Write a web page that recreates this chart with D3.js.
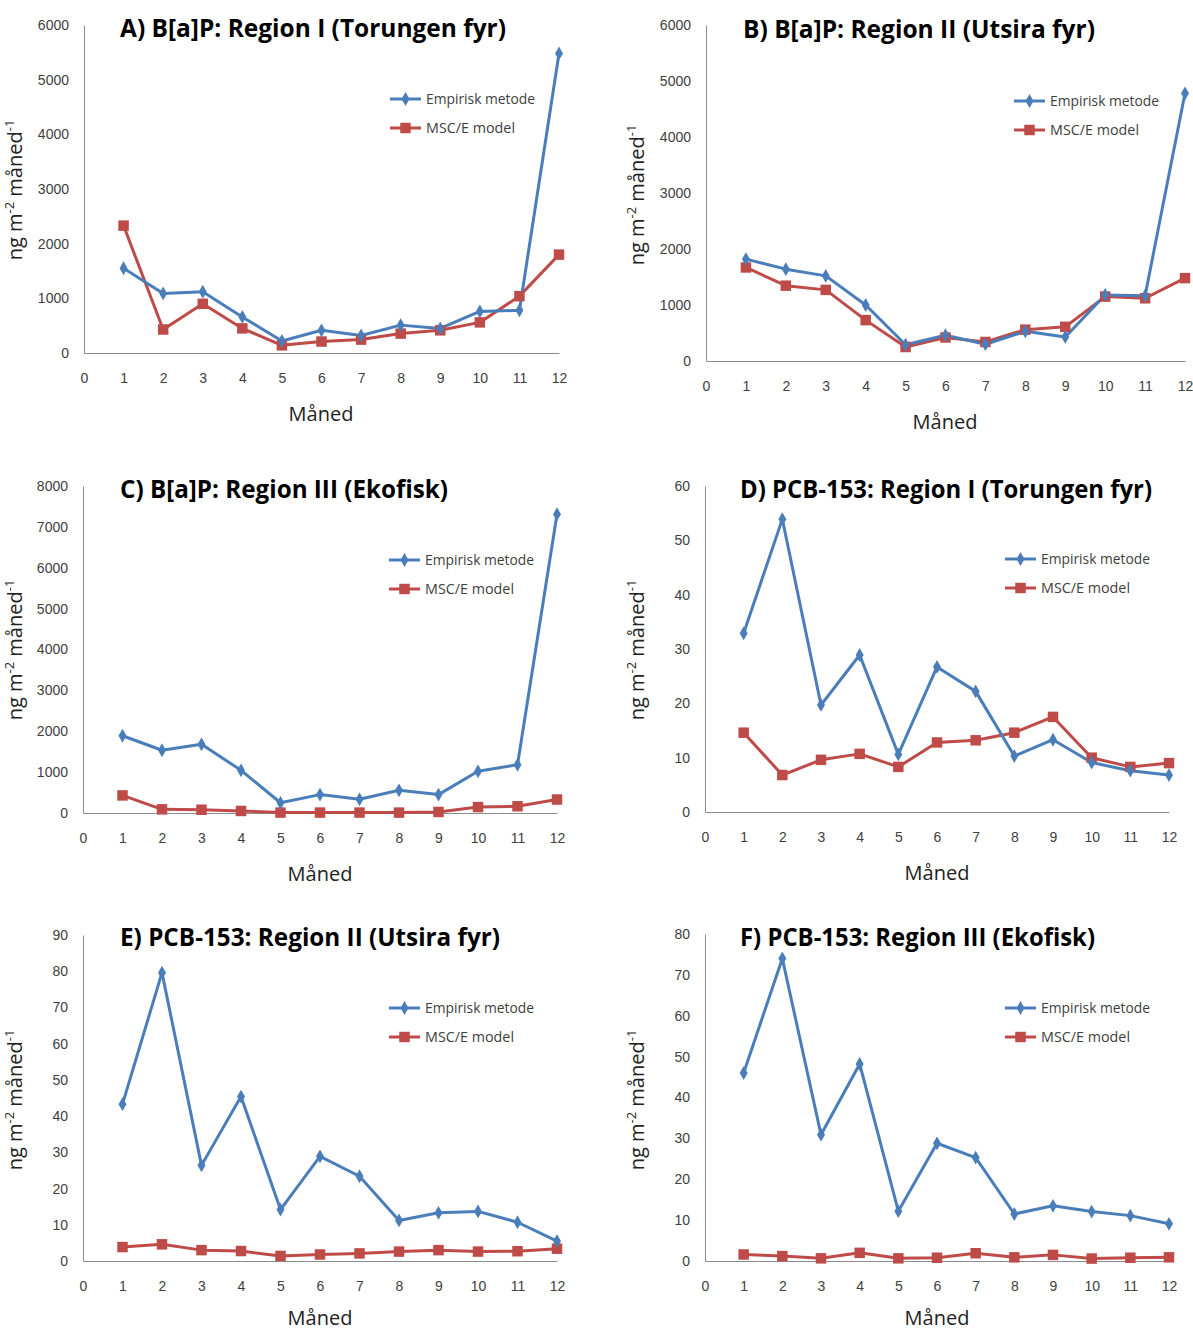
<!DOCTYPE html>
<html>
<head>
<meta charset="utf-8">
<script src="https://cdn.jsdelivr.net/npm/d3@7/dist/d3.min.js"></script>
<style>
  html, body { margin: 0; padding: 0; background: #fff; }
  svg { display: block; font-family: "Open Sans", "Noto Sans", sans-serif; }
</style>
</head>
<body>
<svg id="chart" width="1193" height="1333"></svg>
<script>
// ---- data ----
const months = [1, 2, 3, 4, 5, 6, 7, 8, 9, 10, 11, 12];
const xTicks = [0, 1, 2, 3, 4, 5, 6, 7, 8, 9, 10, 11, 12];
const seriesNames = ["Empirisk metode", "MSC/E model"];
const titles = [
  "A) B[a]P: Region I (Torungen fyr)",
  "B) B[a]P: Region II (Utsira fyr)",
  "C) B[a]P: Region III (Ekofisk)",
  "D) PCB-153: Region I (Torungen fyr)",
  "E) PCB-153: Region II (Utsira fyr)",
  "F) PCB-153: Region III (Ekofisk)"
];
const yMaxes = [6000, 6000, 8000, 60, 90, 80];
const yStepSizes = [1000, 1000, 1000, 10, 10, 10];

const empA = [1550, 1090, 1120, 660, 220, 415, 320, 510, 450, 760, 780, 5480];
const modA = [2330, 430, 900, 450, 140, 210, 245, 355, 415, 560, 1040, 1800];
const empB = [1820, 1640, 1520, 1000, 290, 460, 300, 530, 430, 1180, 1165, 4780];
const modB = [1670, 1345, 1270, 730, 250, 420, 340, 560, 610, 1150, 1120, 1480];
const empC = [1890, 1535, 1680, 1045, 250, 450, 335, 555, 450, 1020, 1180, 7310];
const modC = [430, 90, 80, 50, 10, 10, 10, 10, 25, 145, 165, 330];
const empD = [32.9, 53.9, 19.7, 28.9, 10.6, 26.7, 22.2, 10.3, 13.3, 9.1, 7.6, 6.8];
const modD = [14.6, 6.8, 9.6, 10.7, 8.3, 12.8, 13.2, 14.6, 17.5, 10.0, 8.3, 9.0];
const empE = [43.3, 79.6, 26.4, 45.4, 14.2, 28.9, 23.4, 11.2, 13.3, 13.7, 10.7, 5.5];
const modE = [3.85, 4.6, 3.0, 2.75, 1.4, 1.8, 2.1, 2.6, 3.0, 2.6, 2.7, 3.4];
const empF = [46.0, 74.0, 30.9, 48.2, 12.2, 28.8, 25.3, 11.5, 13.5, 12.1, 11.1, 9.1];
const modF = [1.6, 1.2, 0.65, 2.0, 0.65, 0.8, 1.9, 0.9, 1.5, 0.6, 0.8, 0.9];

const empirisk = [empA, empB, empC, empD, empE, empF];
const model = [modA, modB, modC, modD, modE, modF];

// ---- layout (positions / styles) ----
const layout = [
  {l: 84,  r: 559,  t: 25,  b: 353,  tx0: 120, tx1: 506,  ty: 37,   lx: 390,  ly: 99,   ylx: 22,  yly: 190,  mx: 321, my: 421},
  {l: 706, r: 1185, t: 25,  b: 361,  tx0: 743, tx1: 1095, ty: 38,   lx: 1014, ly: 101,  ylx: 644, yly: 195,  mx: 945, my: 429},
  {l: 83,  r: 557,  t: 486, b: 813,  tx0: 120, tx1: 448,  ty: 498,  lx: 389,  ly: 560,  ylx: 22,  yly: 650,  mx: 320, my: 881},
  {l: 705, r: 1169, t: 486, b: 812,  tx0: 740, tx1: 1152, ty: 498,  lx: 1005, ly: 559,  ylx: 644, yly: 650,  mx: 937, my: 880},
  {l: 83,  r: 557,  t: 935, b: 1261, tx0: 120, tx1: 500,  ty: 946,  lx: 389,  ly: 1008, ylx: 22,  yly: 1100, mx: 320, my: 1325},
  {l: 705, r: 1169, t: 934, b: 1261, tx0: 740, tx1: 1095, ty: 946,  lx: 1005, ly: 1008, ylx: 644, yly: 1100, mx: 937, my: 1325}
];
const blue = "#4a7ebb";
const red = "#be4b48";
const axisColor = "#8c8c8c";
const textColor = "#404040";

const svg = d3.select("#chart");
const diamond = d3.symbol().type(d3.symbolDiamond).size(55);
const square = d3.symbol().type(d3.symbolSquare).size(110);

layout.forEach((L, i) => {
  const g = svg.append("g");
  const x = d3.scaleLinear().domain([0, 12]).range([L.l, L.r]);
  const y = d3.scaleLinear().domain([0, yMaxes[i]]).range([L.b, L.t]);
  const yTickVals = d3.range(0, yMaxes[i] + 1e-9, yStepSizes[i]);

  // y axis
  const yAxis = d3.axisLeft(y).tickValues(yTickVals).tickSize(0).tickPadding(15).tickFormat(d3.format("d"));
  const ya = g.append("g").attr("transform", `translate(${L.l},0)`).call(yAxis);
  ya.select(".domain").attr("stroke", axisColor).attr("stroke-width", 1);
  ya.selectAll("text").attr("fill", textColor).style("font-size", "14px");

  // x axis
  const xAxis = d3.axisBottom(x).tickValues(xTicks).tickSize(0).tickPadding(20).tickFormat(d3.format("d"));
  const xa = g.append("g").attr("transform", `translate(0,${L.b})`).call(xAxis);
  xa.select(".domain").attr("stroke", axisColor).attr("stroke-width", 1);
  xa.selectAll("text").attr("fill", textColor).style("font-size", "14px");

  // lines
  const line = d3.line().x((d, j) => x(months[j])).y(d => y(d));
  g.append("path").datum(model[i]).attr("d", line)
    .attr("fill", "none").attr("stroke", red).attr("stroke-width", 3).attr("stroke-linejoin", "round");
  g.append("path").datum(empirisk[i]).attr("d", line)
    .attr("fill", "none").attr("stroke", blue).attr("stroke-width", 3).attr("stroke-linejoin", "round");
  g.selectAll(".sq").data(model[i]).enter().append("path")
    .attr("d", square).attr("fill", red)
    .attr("transform", (d, j) => `translate(${x(months[j])},${y(d)})`);
  g.selectAll(".dm").data(empirisk[i]).enter().append("path")
    .attr("d", diamond).attr("fill", blue)
    .attr("transform", (d, j) => `translate(${x(months[j])},${y(d)})`);

  // title
  g.append("text").attr("x", L.tx0).attr("y", L.ty)
    .attr("textLength", L.tx1 - L.tx0).attr("lengthAdjust", "spacingAndGlyphs")
    .style("font-size", "25px").style("font-weight", "bold").attr("fill", "#000")
    .text(titles[i]);

  // x axis label
  g.append("text").attr("x", L.mx).attr("y", L.my)
    .attr("text-anchor", "middle").style("font-size", "20px").attr("fill", "#222").text("Måned");

  // y axis label
  const yl = g.append("text").attr("transform", `translate(${L.ylx},${L.yly}) rotate(-90)`)
    .attr("text-anchor", "middle").style("font-size", "20px").attr("fill", "#222");
  yl.append("tspan").text("ng m");
  yl.append("tspan").attr("dy", -8).style("font-size", "13px").text("-2");
  yl.append("tspan").attr("dy", 8).text(" måned");
  yl.append("tspan").attr("dy", -8).style("font-size", "13px").text("-1");

  // legend
  const leg = [[blue, diamond, L.ly], [red, square, L.ly + 29]];
  leg.forEach((s, k) => {
    g.append("line").attr("x1", L.lx).attr("x2", L.lx + 31).attr("y1", s[2]).attr("y2", s[2])
      .attr("stroke", s[0]).attr("stroke-width", 3);
    g.append("path").attr("d", s[1]).attr("fill", s[0])
      .attr("transform", `translate(${L.lx + 15.5},${s[2]})`);
    g.append("text").attr("x", L.lx + 36).attr("y", s[2] + 5)
      .style("font-size", "14px").attr("fill", textColor)
      .attr("textLength", k === 0 ? 109 : 89).attr("lengthAdjust", "spacingAndGlyphs")
      .text(seriesNames[k]);
  });
});
</script>
</body>
</html>
